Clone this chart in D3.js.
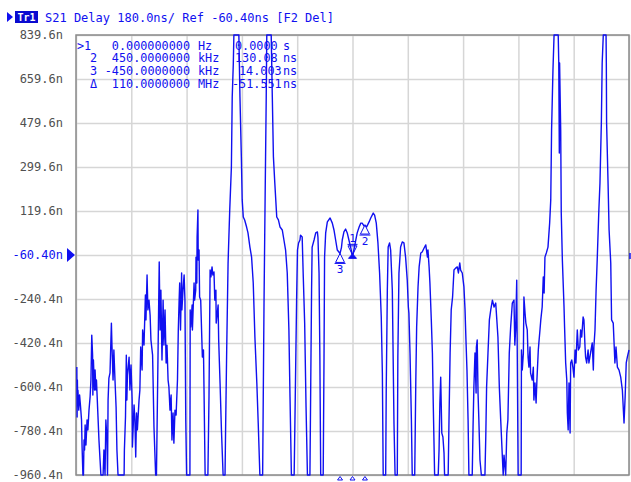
<!DOCTYPE html>
<html><head><meta charset="utf-8">
<script src="https://cdn.jsdelivr.net/npm/d3@7"></script>
<style>html,body{margin:0;padding:0;background:#fff;}svg{display:block;}</style>
</head><body>
<svg id="chart" width="631" height="482"></svg>
<script>
const titleText = "S21 Delay 180.0ns/ Ref -60.40ns [F2 Del]";
const traceName = "Tr1";
const yTickValues = [839.6, 659.6, 479.6, 299.6, 119.6, -60.4, -240.4, -420.4, -600.4, -780.4, -960.4];
const yTickLabels = ["839.6n","659.6n","479.6n","299.6n","119.6n","-60.40n","-240.4n","-420.4n","-600.4n","-780.4n","-960.4n"];
const refLevelNs = -60.4;
const xTickValues = [-10,-8,-6,-4,-2,0,2,4,6,8,10];
// [frequency offset MHz, group delay ns]
const delayTrace = [
[-9.97,-519],[-9.96,-723],[-9.95,-572],[-9.94,-654],[-9.93,-613],[-9.90,-695],[-9.87,-633],[-9.84,-674],[-9.80,-735],[-9.78,-846],[-9.75,-1000],[-9.73,-1000],[-9.71,-817],[-9.69,-858],[-9.67,-756],[-9.64,-838],[-9.60,-735],[-9.57,-776],[-9.53,-695],[-9.49,-641],[-9.46,-572],[-9.43,-388],[-9.40,-470],[-9.39,-633],[-9.37,-490],[-9.33,-613],[-9.31,-531],[-9.28,-613],[-9.26,-572],[-9.20,-735],[-9.17,-817],[-9.13,-899],[-9.10,-1000],[-9.02,-1000],[-8.99,-858],[-8.95,-1000],[-8.92,-735],[-8.88,-817],[-8.86,-1000],[-8.84,-654],[-8.81,-564],[-8.77,-543],[-8.72,-339],[-8.70,-429],[-8.66,-572],[-8.63,-449],[-8.59,-572],[-8.55,-682],[-8.52,-858],[-8.48,-1000],[-8.26,-1000],[-8.25,-858],[-8.21,-723],[-8.18,-470],[-8.16,-654],[-8.14,-551],[-8.08,-478],[-8.05,-613],[-8.01,-510],[-7.97,-654],[-7.96,-846],[-7.90,-674],[-7.87,-735],[-7.84,-887],[-7.81,-707],[-7.78,-776],[-7.76,-735],[-7.72,-654],[-7.69,-613],[-7.66,-437],[-7.61,-531],[-7.59,-367],[-7.54,-429],[-7.49,-224],[-7.47,-326],[-7.43,-142],[-7.40,-285],[-7.36,-245],[-7.32,-306],[-7.29,-408],[-7.23,-470],[-7.18,-764],[-7.12,-1000],[-7.09,-1000],[-7.03,-437],[-6.99,-89],[-6.96,-367],[-6.93,-204],[-6.89,-490],[-6.85,-245],[-6.82,-429],[-6.78,-285],[-6.74,-502],[-6.71,-429],[-6.67,-572],[-6.64,-600],[-6.60,-695],[-6.56,-633],[-6.53,-817],[-6.49,-707],[-6.46,-830],[-6.42,-695],[-6.38,-715],[-6.33,-572],[-6.30,-367],[-6.27,-245],[-6.25,-175],[-6.22,-367],[-6.18,-134],[-6.17,-285],[-6.13,-204],[-6.09,-142],[-6.06,-245],[-6.03,-735],[-6.00,-1000],
[-5.88,-1000],[-5.87,-285],[-5.85,-355],[-5.80,-265],[-5.79,-367],[-5.73,-175],[-5.71,-245],[-5.67,-204],[-5.66,-69],[-5.63,-175],[-5.62,13],[-5.59,124],[-5.58,-81],[-5.55,-40],[-5.53,-232],[-5.49,-245],[-5.43,-478],[-5.39,-449],[-5.37,-613],[-5.33,-1000],[-5.23,-1000],[-5.19,-641],[-5.15,-122],[-5.12,-150],[-5.08,-109],[-5.05,-142],[-5.01,-130],[-4.98,-245],[-4.94,-204],[-4.93,-339],[-4.86,-265],[-4.84,-408],[-4.79,-584],[-4.74,-776],[-4.68,-1000],[-4.61,-1000],[-4.59,-776],[-4.55,-449],[-4.50,-93],[-4.44,124],[-4.38,300],[-4.35,586],[-4.31,725],[-4.29,900],[-4.11,900],[-4.07,586],[-4.02,341],[-3.99,165],[-3.95,95],[-3.90,83],[-3.83,54],[-3.78,30],[-3.71,-28],[-3.65,-69],[-3.59,-175],[-3.53,-396],[-3.46,-584],[-3.41,-748],[-3.35,-1000],[-3.25,-1000],[-3.20,-257],[-3.16,177],[-3.12,586],[-3.10,900],[-2.94,900],[-2.90,586],[-2.86,341],[-2.81,234],[-2.74,95],[-2.68,83],[-2.62,54],[-2.54,42],[-2.48,1],[-2.42,-40],[-2.36,-134],[-2.30,-367],[-2.26,-641],[-2.21,-1000],[-2.11,-1000],[-2.07,-641],[-2.02,-232],[-1.99,-40],
[-1.95,-11],[-1.90,1],[-1.88,21],[-1.82,13],[-1.78,-150],[-1.73,-339],[-1.68,-682],[-1.63,-1000],[-1.54,-1000],[-1.51,-584],[-1.48,-204],[-1.46,-28],[-1.39,1],[-1.33,30],[-1.27,34],[-1.25,13],[-1.21,-134],[-1.18,-478],[-1.15,-1000],[-1.06,-1000],[-1.03,-478],[-1.01,-69],[-0.97,30],[-0.91,75],[-0.81,91],[-0.73,70],[-0.67,42],[-0.61,1],[-0.55,-40],[-0.45,-54],[-0.40,-30],[-0.37,1],[-0.31,34],[-0.25,46],[-0.19,30],[-0.13,1],[-0.06,-32],[0,-68],[0.05,-40],[0.12,1],[0.17,30],[0.24,54],[0.30,70],[0.35,70],[0.42,58],[0.45,62],[0.51,54],[0.60,75],[0.66,91],[0.75,111],[0.80,103],[0.86,70],[0.92,-11],[0.98,-134],[1.04,-314],[1.08,-543],[1.11,-1000],[1.20,-1000],[1.22,-613],[1.26,-204],[1.29,-28],[1.34,-11],[1.38,-40],[1.44,-204],[1.47,-478],[1.50,-748],[1.54,-1000],[1.62,-1000],[1.64,-478],[1.68,-134],[1.74,-28],[1.80,-7],[1.86,-11],[1.92,-69],[1.98,-163],[2.02,-273],
[2.04,-298],[2.08,-461],[2.13,-735],[2.16,-1000],[2.25,-1000],[2.29,-572],[2.32,-355],[2.37,-191],[2.41,-109],[2.47,-52],[2.52,-48],[2.59,-32],[2.65,-19],[2.71,-69],[2.73,-40],[2.77,-109],[2.80,-175],[2.85,-326],[2.89,-461],[2.92,-666],[2.97,-1000],[3.10,-1000],[3.13,-858],[3.16,-666],[3.19,-560],[3.23,-789],[3.27,-805],[3.31,-870],[3.33,-1000],[3.46,-1000],[3.49,-735],[3.53,-461],[3.57,-285],[3.62,-232],[3.67,-122],[3.73,-114],[3.79,-109],[3.83,-134],[3.88,-93],[3.91,-122],[3.97,-134],[4.03,-191],[4.07,-285],[4.10,-396],[4.14,-531],[4.18,-735],[4.21,-1000],[4.33,-1000],[4.36,-764],[4.39,-600],[4.43,-461],[4.47,-625],[4.48,-437],[4.51,-408],[4.54,-625],[4.57,-735],[4.61,-899],[4.66,-1000],[4.79,-1000],[4.82,-805],[4.85,-600],[4.90,-461],[4.95,-326],[5.00,-285],[5.06,-245],[5.12,-273],[5.18,-257],[5.22,-326],[5.26,-396],[5.31,-600],[5.36,-735],[5.42,-887],[5.45,-1000],[5.48,-879],[5.54,-1000],[5.58,-789],[5.62,-735],[5.67,-461],[5.72,-355],[5.78,-257],[5.84,-245],[5.87,-429],[5.90,-367],[5.94,-163],[5.96,-478],[5.99,-1000],
[6.10,-1000],[6.11,-449],[6.14,-531],[6.18,-461],[6.20,-232],[6.24,-298],[6.27,-339],[6.32,-367],[6.35,-478],[6.38,-519],[6.42,-437],[6.44,-543],[6.50,-572],[6.54,-519],[6.56,-654],[6.60,-584],[6.64,-666],[6.67,-572],[6.72,-449],[6.74,-420],[6.78,-367],[6.81,-326],[6.86,-273],[6.90,-150],[6.93,-216],[6.96,-69],[7.01,-52],[7.07,-28],[7.13,70],[7.17,165],[7.20,451],[7.25,696],[7.29,900],[7.44,900],[7.46,725],[7.48,357],[7.49,725],[7.53,451],[7.55,111],[7.59,-81],[7.65,-273],[7.67,-355],[7.71,-502],[7.75,-572],[7.77,-707],[7.80,-776],[7.83,-584],[7.87,-789],[7.89,-502],[7.93,-490],[7.97,-519],[8.01,-560],[8.05,-449],[8.08,-502],[8.13,-367],[8.17,-449],[8.22,-437],[8.25,-367],[8.29,-396],[8.34,-314],[8.37,-326],[8.41,-437],[8.43,-478],[8.47,-502],[8.52,-449],[8.55,-502],[8.61,-461],[8.67,-420],[8.71,-531],[8.73,-437],[8.77,-367],[8.81,-204],[8.85,-81],[8.91,124],[8.95,234],[9.00,480],[9.03,725],[9.07,900],[9.17,900],[9.18,725],[9.19,480],[9.24,246],[9.28,42],[9.34,-93],[9.37,-326],[9.43,-339],[9.46,-420],[9.49,-502],[9.53,-437],[9.58,-519],[9.64,-531],[9.70,-560],[9.76,-613],[9.82,-748],[9.86,-641],[9.90,-502],[9.94,-478],[10.00,-449]
];
const markerIds = ["1","2","3"];
const markerFreqMHz = [0, 0.45, -0.45];
const markerDelayNs = [-68, 62.08, -54.0];
const readoutIds = [">1","2","3","\u0394"];
const readoutStimulus = ["0.000000000","450.0000000","-450.0000000","110.0000000"];
const readoutStimUnits = ["Hz","kHz","kHz","MHz"];
const readoutValues = ["0.0000","130.08","14.003","-51.551"];
const readoutValueUnits = ["s","ns","ns","ns"];

const BLUE = "#1010f0";
const FONT = "'DejaVu Sans Mono', 'Liberation Mono', monospace";
const L = 76, R = 629, T = 35, B = 475;
const svg = d3.select("#chart");

const x = d3.scaleLinear().domain([-10, 10]).range([L, R]);
const y = d3.scaleLinear().domain([-960.4, 839.6]).range([B, T]).clamp(true);

// grid
svg.append("g").attr("transform", `translate(${L},0)`)
  .call(d3.axisLeft(y).tickValues(yTickValues).tickSize(-(R - L)).tickFormat(""))
  .call(g => { g.select(".domain").remove(); g.selectAll("line").attr("stroke", "#d6d6d6").attr("stroke-width", 1.5); });
svg.append("g").attr("transform", `translate(0,${B})`)
  .call(d3.axisBottom(x).tickValues(xTickValues).tickSize(-(B - T)).tickFormat(""))
  .call(g => { g.select(".domain").remove(); g.selectAll("line").attr("stroke", "#d6d6d6").attr("stroke-width", 1.5); });

// y labels
svg.append("g").attr("transform", `translate(${L},0)`)
  .call(d3.axisLeft(y).tickValues(yTickValues).tickSize(0).tickPadding(13).tickFormat((d, i) => yTickLabels[i]))
  .call(g => {
    g.select(".domain").remove();
    g.selectAll("text").attr("font-family", FONT).attr("font-size", 12)
      .attr("fill", d => d === refLevelNs ? BLUE : "#505050");
  });

// frame
svg.append("rect").attr("x", L).attr("y", T).attr("width", R - L).attr("height", B - T)
  .attr("fill", "none").attr("stroke", "#8a8a8a").attr("stroke-width", 1.5);

// readout
const rowY = [49.5, 62.4, 75.3, 88.2];
const idX = [77, 90, 90, 90];
const valX = [235, 235, 239, 232];
const rg = svg.append("g").attr("font-family", FONT).attr("font-size", 11.8).attr("fill", BLUE);
readoutIds.forEach((t, i) => {
  rg.append("text").attr("x", idX[i]).attr("y", rowY[i]).text(t);
  rg.append("text").attr("x", 190).attr("y", rowY[i]).attr("text-anchor", "end").text(readoutStimulus[i]);
  rg.append("text").attr("x", 198).attr("y", rowY[i]).text(readoutStimUnits[i]);
  rg.append("text").attr("x", valX[i]).attr("y", rowY[i]).text(readoutValues[i]);
  rg.append("text").attr("x", 283).attr("y", rowY[i]).text(readoutValueUnits[i]);
});

// trace
svg.append("defs").append("clipPath").attr("id", "plotclip")
  .append("rect").attr("x", L).attr("y", T - 1).attr("width", R - L + 1).attr("height", B - T + 2);
const line = d3.line().x(d => x(d[0])).y(d => y(d[1]));
svg.append("path").datum(delayTrace).attr("d", line).attr("clip-path", "url(#plotclip)")
  .attr("fill", "none").attr("stroke", BLUE).attr("stroke-width", 1.4).attr("stroke-linejoin", "round");

// markers
const mg = svg.append("g").attr("fill", "none").attr("stroke", BLUE).attr("stroke-width", 1);
markerIds.forEach((id, i) => {
  const px = x(markerFreqMHz[i]), py = y(markerDelayNs[i]);
  if (id === "1") {
    mg.append("path").attr("d", `M${px},${py - 2}L${px - 4.5},${py - 11}L${px + 4.5},${py - 11}Z`);
    mg.append("line").attr("x1", px - 5).attr("x2", px + 5).attr("y1", py - 12.5).attr("y2", py - 12.5);
    mg.append("path").attr("d", `M${px},${py - 3}L${px - 4},${py + 1.5}L${px + 4},${py + 1.5}Z`).attr("fill", BLUE);
    svg.append("text").attr("x", px).attr("y", py - 15).attr("text-anchor", "middle")
      .attr("font-family", FONT).attr("font-size", 11).attr("fill", BLUE).text(id);
  } else {
    mg.append("path").attr("d", `M${px},${py}L${px - 4.5},${py + 9}L${px + 4.5},${py + 9}Z`).attr("fill", "#fff");
    mg.append("line").attr("x1", px - 5.5).attr("x2", px + 5.5).attr("y1", py + 10).attr("y2", py + 10);
    svg.append("text").attr("x", px).attr("y", py + 20).attr("text-anchor", "middle")
      .attr("font-family", FONT).attr("font-size", 11).attr("fill", BLUE).text(id);
  }
  mg.append("path").attr("d", `M${px},${B + 1.5}L${px - 2.5},${B + 5}L${px + 2.5},${B + 5}Z`);
});

// reference level arrow
const ry = y(refLevelNs);
svg.append("path").attr("d", `M67,${ry - 7}L75,${ry}L67,${ry + 7}Z`).attr("fill", BLUE);
svg.append("line").attr("x1", 630).attr("x2", 630).attr("y1", ry - 2).attr("y2", ry + 4).attr("stroke", BLUE).attr("stroke-width", 1.5);

// header
svg.append("path").attr("d", "M7,12L13,17L7,22Z").attr("fill", BLUE);
svg.append("rect").attr("x", 15).attr("y", 11).attr("width", 23).attr("height", 12).attr("fill", "#0a0ad0");
svg.append("text").attr("x", 26.5).attr("y", 21).attr("text-anchor", "middle")
  .attr("font-family", FONT).attr("font-size", 10).attr("font-weight", "bold").attr("fill", "#fff").text(traceName);
svg.append("text").attr("x", 45).attr("y", 21.5)
  .attr("font-family", FONT).attr("font-size", 12).attr("fill", BLUE).text(titleText);
</script>
</body></html>
